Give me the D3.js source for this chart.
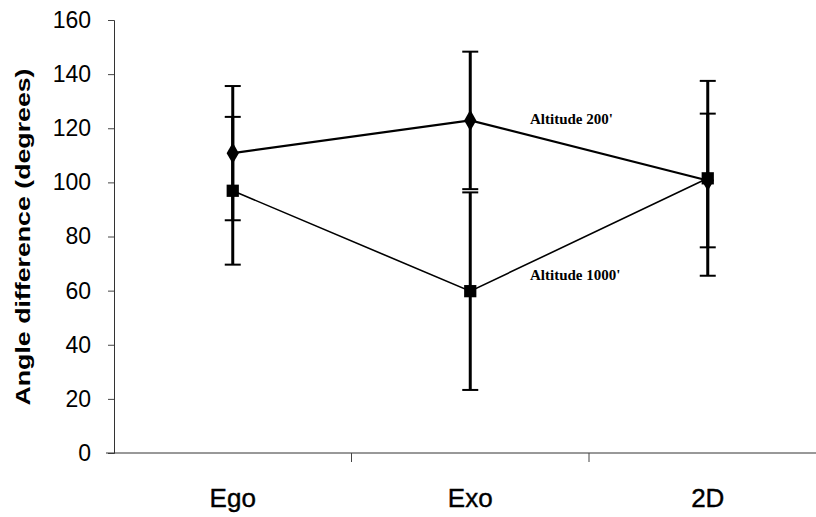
<!DOCTYPE html>
<html>
<head>
<meta charset="utf-8">
<script src="https://cdn.jsdelivr.net/npm/d3@7"></script>
<style>
  html, body { margin: 0; padding: 0; background: #fff; }
  svg { display: block; }
</style>
</head>
<body>
<svg id="chart" width="816" height="517"></svg>
<script>
// Mean angle difference per display condition, two altitudes, with error bars
const categories = ["Ego", "Exo", "2D"];
const alt200 = [110.8, 122.9, 100.7];
const err200 = [24.8, 25.4, 24.7];
const alt1000 = [96.9, 59.8, 101.5];
const err1000 = [27.3, 36.5, 36.0];
const yTicks = [0, 20, 40, 60, 80, 100, 120, 140, 160];
const seriesLabels = ["Altitude 200'", "Altitude 1000'"];

const svg = d3.select("#chart");

const x = d3.scaleBand().domain(categories).range([114, 826.5]).padding(0);
const y = d3.scaleLinear().domain([0, 160]).range([453, 20]);
const cx = c => x(c) + x.bandwidth() / 2;

// y axis
const yAxis = d3.axisLeft(y).tickValues(yTicks).tickSize(6).tickPadding(17);
const gy = svg.append("g").attr("transform", "translate(114,0)").call(yAxis);
gy.select(".domain").attr("stroke", "#333").attr("stroke-width", 1);
gy.selectAll(".tick line").attr("stroke", "#444");
gy.selectAll(".tick text")
  .attr("font-family", "Liberation Sans, Arial, sans-serif")
  .attr("font-size", 23)
  .attr("fill", "#000");

// x axis with ticks on the category boundaries
const gx = svg.append("g").attr("transform", "translate(0,453)");
gx.append("line").attr("x1", 106).attr("x2", 816).attr("y1", 0).attr("y2", 0)
  .attr("stroke", "#333").attr("stroke-width", 1);
gx.selectAll("line.bound").data(categories.slice(1)).join("line")
  .attr("class", "bound")
  .attr("x1", d => x(d)).attr("x2", d => x(d))
  .attr("y1", 0).attr("y2", 9)
  .attr("stroke", "#444");
gx.selectAll("text.cat").data(categories).join("text")
  .attr("class", "cat")
  .attr("x", d => cx(d)).attr("y", 54)
  .attr("text-anchor", "middle")
  .attr("font-family", "Liberation Sans, Arial, sans-serif")
  .attr("font-size", 26)
  .attr("stroke", "#000").attr("stroke-width", 0.4)
  .text(d => d);

// y axis title
svg.append("text")
  .attr("transform", "translate(30,237) rotate(-90)")
  .attr("text-anchor", "middle")
  .attr("font-family", "Liberation Sans, Arial, sans-serif")
  .attr("font-weight", "bold")
  .attr("font-size", 21)
  .attr("textLength", 337)
  .attr("lengthAdjust", "spacingAndGlyphs")
  .text("Angle difference (degrees)");

const series = [
  { vals: alt1000, errs: err1000, marker: "square", width: 1.6 },
  { vals: alt200, errs: err200, marker: "diamond", width: 2.2 }
];

// error bars
series.forEach(s => {
  const g = svg.append("g");
  categories.forEach((c, i) => {
    const lo = y(s.vals[i] - s.errs[i]);
    const hi = y(s.vals[i] + s.errs[i]);
    g.append("line").attr("x1", cx(c)).attr("x2", cx(c)).attr("y1", lo).attr("y2", hi)
      .attr("stroke", "#000").attr("stroke-width", 3);
    [lo, hi].forEach(v => g.append("line")
      .attr("x1", cx(c) - 8).attr("x2", cx(c) + 8).attr("y1", v).attr("y2", v)
      .attr("stroke", "#000").attr("stroke-width", 2));
  });
});

// connecting lines and markers
const line = d3.line().x((d, i) => cx(categories[i])).y(d => y(d));
series.forEach(s => {
  svg.append("path").datum(s.vals).attr("d", line)
    .attr("fill", "none").attr("stroke", "#000").attr("stroke-width", s.width);
  const sym = s.marker === "square" ? d3.symbolSquare : d3.symbolDiamond;
  const size = s.marker === "square" ? 150 : 130;
  svg.selectAll(null).data(s.vals).join("path")
    .attr("transform", (d, i) => `translate(${cx(categories[i])},${y(d)})`)
    .attr("d", d3.symbol().type(sym).size(size))
    .attr("fill", "#000");
});

// series labels
const labelY = [124, 280];
seriesLabels.forEach((t, i) => {
  svg.append("text")
    .attr("x", 530).attr("y", labelY[i])
    .attr("font-family", "Liberation Serif, Times New Roman, serif")
    .attr("font-weight", "bold")
    .attr("font-size", 15)
    .text(t);
});
</script>
</body>
</html>
